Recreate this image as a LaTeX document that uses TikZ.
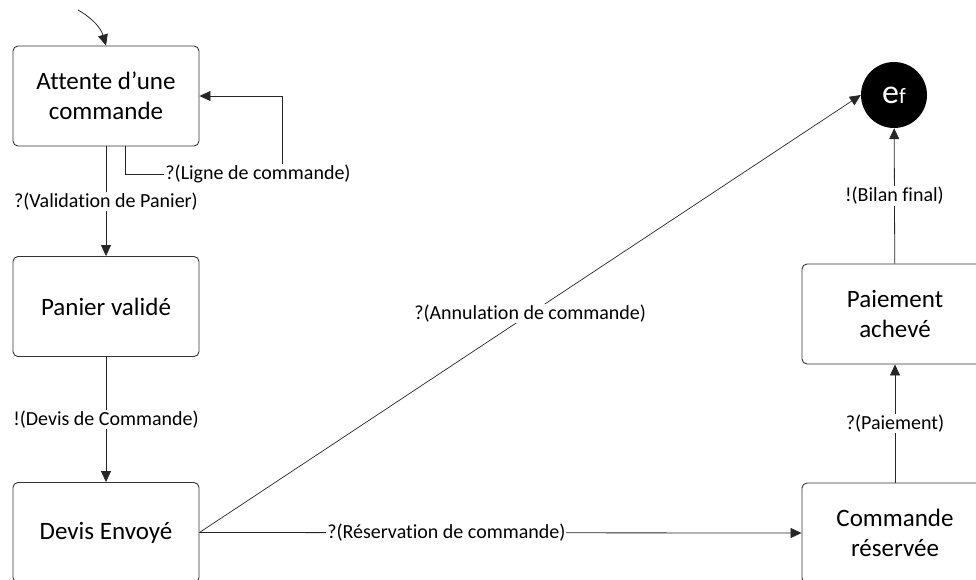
\documentclass[tikz,border=0pt]{standalone}
\usepackage{fontspec}
\setmainfont{Carlito}[Ligatures={NoCommon}]
\usetikzlibrary{arrows.meta}
\begin{document}
\begin{tikzpicture}[x=1pt,y=-1pt,
  state/.style={draw=black!80, line width=0.9pt, rounded corners=5pt,
    minimum width=186pt, minimum height=100pt, align=center,
    font=\fontsize{25}{30.5}\selectfont, inner sep=0pt},
  final/.style={circle, fill=black, minimum size=66pt, inner sep=0pt},
  conn/.style={line width=0.8pt, draw=black!85,
    -{Triangle[length=11pt,width=10pt]}},
  lbl/.style={fill=white, inner sep=1pt, font=\fontsize{20}{24}\selectfont}]
  \useasboundingbox (0,0) rectangle (976,579);
  \begin{scope}
    \clip (0,0) rectangle (976,579);
    % states
    \node[state] (att) at (106,96)    {Attente d’une\\commande};
    \node[state] (pan) at (106,306.5) {Panier validé};
    \node[state] (dev) at (106,532.5) {Devis Envoyé};
    \node[state] (res) at (895,533)   {Commande\\réservée};
    \node[state] (pai) at (895,314)   {Paiement\\achevé};
    \node[final] (ef)  at (894,95)
      {\color{white}\fontsize{34}{34}\selectfont e\fontsize{22}{22}\selectfont f};
    % initial transition
    \coordinate (init) at (78,10);
    \draw[conn] (init) to[bend left=22] (att.north);
    % self loop on the waiting state
    \coordinate (l1) at (125,174);
    \coordinate (l2) at (282,174);
    \coordinate (l3) at (282,96);
    \draw[conn] (att.south -| l1) -- (l1) -- (l2) -- (l3) -- (att.east);
    \node[lbl] (lligne) at (258,174) {?(Ligne de commande)};
    % vertical transitions
    \draw[conn] (att) -- node[lbl] (lval) {?(Validation de Panier)} (pan);
    \draw[conn] (pan) -- node[lbl] (ldev) {!(Devis de Commande)} (dev);
    \draw[conn] (res) -- node[lbl] (lpai) {?(Paiement)} (pai);
    \draw[conn] (pai) -- node[lbl] (lbil) {!(Bilan final)} (ef);
    % transitions leaving the quote state
    \draw[conn, line width=0.7pt] (dev.east) -- node[lbl] (lann) {?(Annulation de commande)} (ef.west);
    \draw[conn] (dev.east) -- node[lbl, pos=0.41] (lres) {?(Réservation de commande)} (res.west);
  \end{scope}
\end{tikzpicture}
\end{document}
